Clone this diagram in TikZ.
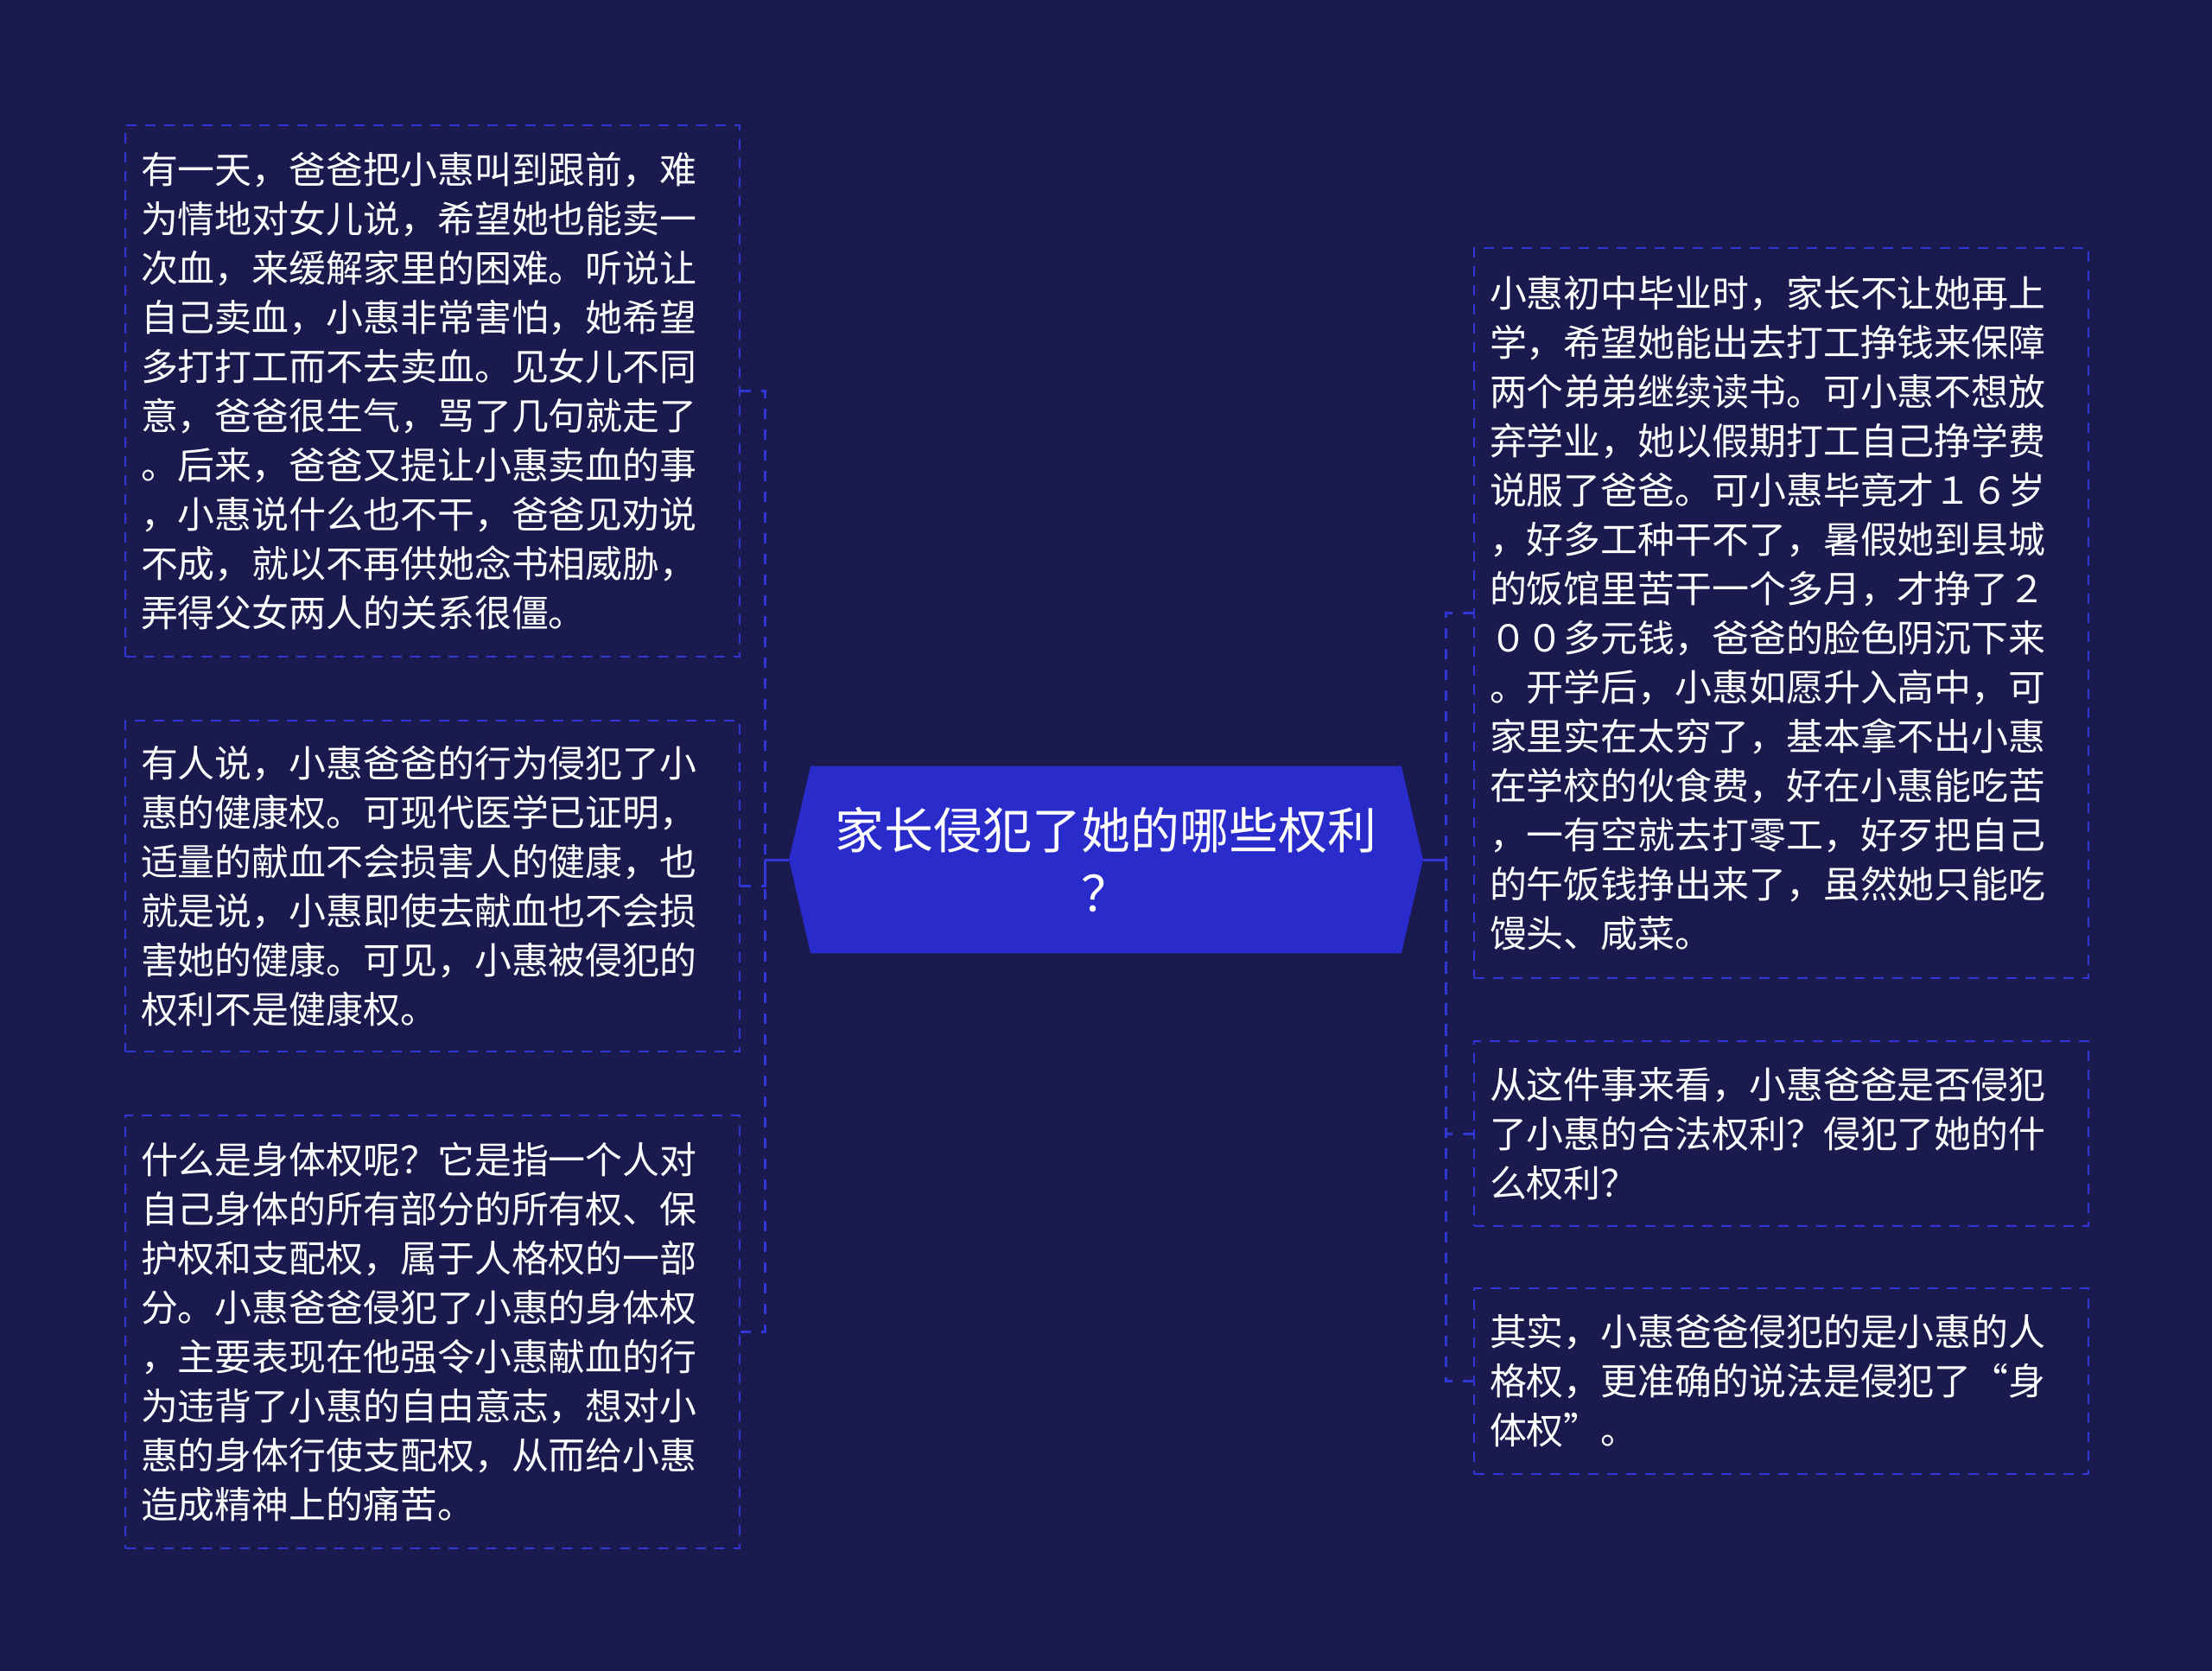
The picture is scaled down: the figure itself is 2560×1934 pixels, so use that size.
\documentclass[tikz,border=0pt]{standalone}
\usepackage{fontspec}
\setmainfont{Noto Sans CJK SC}
\usetikzlibrary{backgrounds}
\definecolor{bgc}{HTML}{1A1A4E}
\definecolor{hexc}{HTML}{2A2BCB}
\definecolor{linec}{HTML}{3035D6}
\tikzset{
 leaf/.style={draw=linec, line width=0.02cm, dash pattern=on 0.12cm off 0.10cm, text=white,
   font=\fontsize{12.2pt}{16.2pt}\selectfont, text width=6.75cm, align=left,
   inner xsep=0.18cm, inner ysep=0pt, anchor=north west},
 link/.style={draw=linec, line width=0.03cm, dash pattern=on 0.12cm off 0.12cm},
 stub/.style={draw=linec, line width=0.03cm},
 titlebox/.style={text=white, font=\fontsize{16.2pt}{21pt}\selectfont, minimum width=7.32cm,
   minimum height=2.15cm, align=center, inner sep=0pt}
}
\begin{document}
\begin{tikzpicture}[x=0.01cm,y=-0.01cm]
\useasboundingbox (0,0) rectangle (2560,1934);
\node[titlebox] (t) at (1280,995) {家长侵犯了她的哪些权利\\？};
\begin{scope}[on background layer]
 \fill[bgc] (0,0) rectangle (2560,1934);
 \fill[hexc] (t.west) -- ([xshift=0.25cm]t.north west) -- ([xshift=-0.25cm]t.north east) -- (t.east)
   -- ([xshift=-0.25cm]t.south east) -- ([xshift=0.25cm]t.south west) -- cycle;
\end{scope}
\coordinate (lt) at ([xshift=-0.28cm]t.west);
\coordinate (rt) at ([xshift=0.27cm]t.east);

\node[leaf, minimum height=6.15cm] (b1) at (144,144) {有一天，爸爸把小惠叫到跟前，难\\为情地对女儿说，希望她也能卖一\\次血，来缓解家里的困难。听说让\\自己卖血，小惠非常害怕，她希望\\多打打工而不去卖血。见女儿不同\\意，爸爸很生气，骂了几句就走了\\。后来，爸爸又提让小惠卖血的事\\，小惠说什么也不干，爸爸见劝说\\不成，就以不再供她念书相威胁，\\弄得父女两人的关系很僵。};
\node[leaf, minimum height=3.83cm] (b2) at (144,833) {有人说，小惠爸爸的行为侵犯了小\\惠的健康权。可现代医学已证明，\\适量的献血不会损害人的健康，也\\就是说，小惠即使去献血也不会损\\害她的健康。可见，小惠被侵犯的\\权利不是健康权。};
\node[leaf, minimum height=5.01cm] (b3) at (144,1290) {什么是身体权呢？它是指一个人对\\自己身体的所有部分的所有权、保\\护权和支配权，属于人格权的一部\\分。小惠爸爸侵犯了小惠的身体权\\，主要表现在他强令小惠献血的行\\为违背了小惠的自由意志，想对小\\惠的身体行使支配权，从而给小惠\\造成精神上的痛苦。};
\node[leaf, minimum height=8.45cm] (b4) at (1705,286) {小惠初中毕业时，家长不让她再上\\学，希望她能出去打工挣钱来保障\\两个弟弟继续读书。可小惠不想放\\弃学业，她以假期打工自己挣学费\\说服了爸爸。可小惠毕竟才１６岁\\，好多工种干不了，暑假她到县城\\的饭馆里苦干一个多月，才挣了２\\００多元钱，爸爸的脸色阴沉下来\\。开学后，小惠如愿升入高中，可\\家里实在太穷了，基本拿不出小惠\\在学校的伙食费，好在小惠能吃苦\\，一有空就去打零工，好歹把自己\\的午饭钱挣出来了，虽然她只能吃\\馒头、咸菜。};
\node[leaf, minimum height=2.14cm] (b5) at (1705,1204) {从这件事来看，小惠爸爸是否侵犯\\了小惠的合法权利？侵犯了她的什\\么权利？};
\node[leaf, minimum height=2.15cm] (b6) at (1705,1490) {其实，小惠爸爸侵犯的是小惠的人\\格权，更准确的说法是侵犯了“身\\体权”。};

\draw[stub] (t.west) -- (lt);
\draw[stub] (t.east) -- (rt);
\draw[link] (b1.east) -| (lt);
\draw[link] (b2.east) -| (lt);
\draw[link] (b3.east) -| (lt);
\draw[link] (b4.west) -| (rt);
\draw[link] (b5.west) -| (rt);
\draw[link] (b6.west) -| (rt);
\end{tikzpicture}
\end{document}
